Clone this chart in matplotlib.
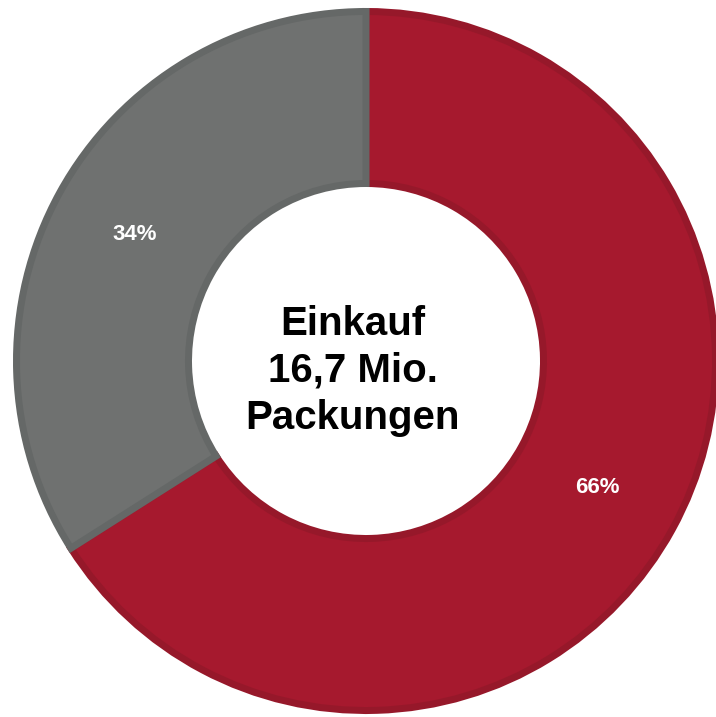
import matplotlib
matplotlib.use("Agg")
import matplotlib.pyplot as plt

# ---------------------------------------------------------
# Data
# ---------------------------------------------------------
labels = ["Direkt", "Sonstige"]
shares = [66, 34]
colors = ["#A6192E", "#6F7170"]
edge_colors = ["#96182A", "#656867"]
center_text = "Einkauf\n16,7 Mio.\nPackungen"

W, H = 716, 717
fig = plt.figure(figsize=(W / 100, H / 100), dpi=100)
ax = fig.add_axes([0, 0, 1, 1])
ax.set_xlim(0, W)
ax.set_ylim(0, H)
ax.set_aspect("equal")
ax.axis("off")

cx, cy = 366, H - 361
r_out, r_in = 353, 174
stroke = 7  # px
lw = stroke * 72 / 100
radius = r_out - stroke / 2
width = radius - (r_in + stroke / 2)
pct_r = (r_out + r_in) / 2

wedges, texts, autotexts = ax.pie(
    shares, colors=colors, startangle=90, counterclock=False,
    center=(cx, cy), radius=radius,
    autopct="%1.0f%%", pctdistance=pct_r / radius,
    wedgeprops=dict(width=width, linewidth=lw, joinstyle="miter"),
    textprops=dict(color="white", fontsize=16, fontweight="bold",
                   family="Liberation Sans"),
)
for w, ec in zip(wedges, edge_colors):
    w.set_edgecolor(ec)

ax.set_xlim(0, W)
ax.set_ylim(0, H)

ax.text(353, H - 371, center_text, ha="center", va="center",
        fontsize=29, fontweight="bold", family="Liberation Sans",
        color="black", linespacing=1.3)

fig.savefig("out.png", dpi=100)
